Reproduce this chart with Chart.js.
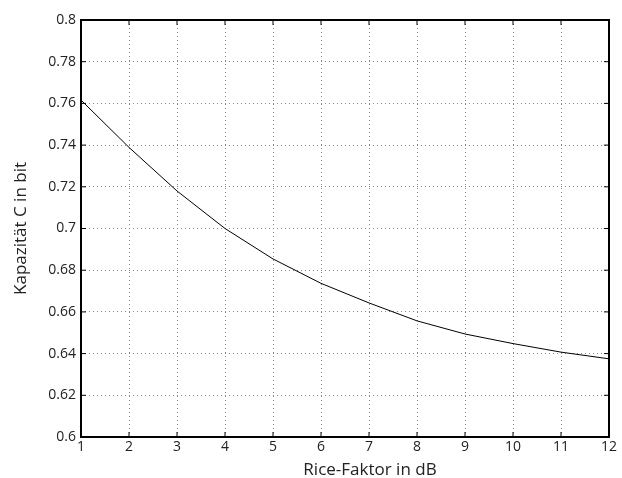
<!DOCTYPE html>
<html>
<head>
<meta charset="utf-8">
<script src="https://cdn.jsdelivr.net/npm/chart.js@4"></script>
<style>
  html, body { margin: 0; padding: 0; background: #fff; }
  #wrap { width: 622px; height: 478px; }
</style>
</head>
<body>
<div id="wrap"><canvas id="myChart" width="622" height="478"></canvas></div>
<script>
// Rice-Faktor (dB) vs. Kapazität
const riceFactor = [1, 2, 3, 4, 5, 6, 7, 8, 9, 10, 11, 12];
const capacity = [0.7616, 0.7389, 0.7180, 0.7000, 0.6854, 0.6737, 0.6643, 0.6557, 0.6494, 0.6448, 0.6407, 0.6375];
const yTicks = [0.6, 0.62, 0.64, 0.66, 0.68, 0.7, 0.72, 0.74, 0.76, 0.78, 0.8];
const xLabel = 'Rice-Faktor in dB';
const yLabel = 'Kapazität C in bit';

const fontFam = "'Open Sans', 'DejaVu Sans', sans-serif";

// frame, inward tick marks and x label like the original plot
const framePlugin = {
  id: 'frame',
  afterDraw(chart) {
    const ctx = chart.ctx;
    const a = chart.chartArea;
    const xs = chart.scales.x, ys = chart.scales.y;
    ctx.save();
    ctx.strokeStyle = '#000';
    ctx.lineWidth = 1;
    riceFactor.forEach(v => {
      const px = xs.getPixelForValue(v);
      ctx.beginPath();
      ctx.moveTo(px, a.bottom); ctx.lineTo(px, a.bottom - 5);
      ctx.moveTo(px, a.top); ctx.lineTo(px, a.top + 5);
      ctx.stroke();
    });
    yTicks.forEach(v => {
      const py = ys.getPixelForValue(v);
      ctx.beginPath();
      ctx.moveTo(a.left, py); ctx.lineTo(a.left + 5, py);
      ctx.moveTo(a.right, py); ctx.lineTo(a.right - 5, py);
      ctx.stroke();
    });
    ctx.lineWidth = 2;
    ctx.strokeRect(a.left, a.top, a.right - a.left, a.bottom - a.top);

    ctx.fillStyle = '#222';
    ctx.font = '17px ' + fontFam;
    ctx.textAlign = 'center';
    ctx.textBaseline = 'alphabetic';
    ctx.fillText(xLabel, 370, 475);
    ctx.restore();
  }
};

new Chart(document.getElementById('myChart'), {
  type: 'line',
  data: {
    datasets: [{
      data: riceFactor.map((x, i) => ({ x: x, y: capacity[i] })),
      borderColor: '#000',
      borderWidth: 1,
      pointRadius: 0,
      tension: 0,
      fill: false
    }]
  },
  options: {
    responsive: false,
    animation: false,
    layout: { padding: { top: 20, right: 13, left: 0, bottom: 0 } },
    plugins: { legend: { display: false }, tooltip: { enabled: false } },
    scales: {
      x: {
        type: 'linear',
        min: 1, max: 12,
        afterBuildTicks: s => { s.ticks = riceFactor.map(v => ({ value: v })); },
        afterFit: s => { s.height = 41; },
        grid: { color: '#888', lineWidth: 1, drawTicks: false },
        border: { display: false, dash: [1, 3] },
        ticks: { color: '#222', font: { family: fontFam, size: 14 }, padding: 2, maxRotation: 0 }
      },
      y: {
        type: 'linear',
        min: 0.6, max: 0.8,
        afterBuildTicks: s => { s.ticks = yTicks.map(v => ({ value: v })); },
        afterFit: s => { s.width = 81; },
        grid: { color: '#888', lineWidth: 1, drawTicks: false },
        border: { display: false, dash: [1, 3] },
        ticks: {
          color: '#222', font: { family: fontFam, size: 14 }, padding: 5,
          callback: v => String(parseFloat(v.toFixed(2)))
        },
        title: { display: true, text: yLabel, color: '#222', font: { family: fontFam, size: 17 }, padding: { top: 11, bottom: 0 } }
      }
    }
  },
  plugins: [framePlugin]
});
</script>
</body>
</html>
